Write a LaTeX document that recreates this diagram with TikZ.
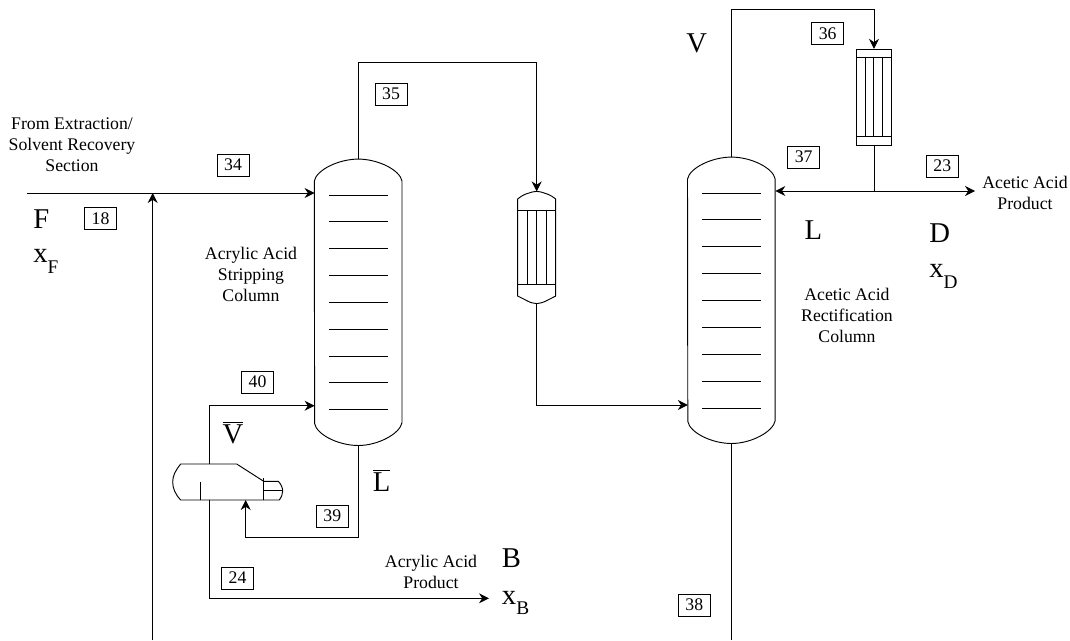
\documentclass[tikz,border=0pt]{standalone}
\usepackage{fontspec}
\setmainfont{Liberation Serif}
\usetikzlibrary{arrows.meta}
\tikzset{
  flow/.style={-{Stealth[length=7.5pt,width=7.5pt]},line width=0.7pt},
  pipe/.style={line width=0.7pt},
  numbox/.style={draw,line width=0.6pt,minimum width=24pt,minimum height=16.5pt,inner sep=0pt,font=\fontsize{13.3}{15.75}\selectfont},
  smalltext/.style={align=center,inner sep=0pt,font=\fontsize{13.3}{15.75}\selectfont},
  bigtext/.style={anchor=base west,inner sep=0pt,font=\fontsize{21.5}{24}\selectfont},
  column/.style={minimum width=65.6pt,minimum height=214.4pt,inner sep=0pt}
}
\newcommand{\lowsub}[1]{\raisebox{-0.38em}{\fontsize{14.5}{16}\selectfont #1}}
\newcommand{\columnshell}[1]{%
  \draw[pipe] (#1.north west) ++(0,22)
    .. controls +(2,-11) and +(-20,0) .. (#1.north)
    .. controls +(20,0) and +(-2,-11) .. ++(43.7,22)
    -- ++(0,241.5)
    .. controls +(-2,11) and +(20,0) .. (#1.south)
    .. controls +(-20,0) and +(2,11) .. ++(-43.7,-22) -- cycle;}

\begin{document}
\begin{tikzpicture}[x=0.75pt,y=-0.75pt]
  \useasboundingbox (0,0) rectangle (1070,641);

  \node[column] (stripcol) at (358.3,302.3) {};
  \node[column] (rectcol) at (731.5,300.3) {};
  \columnshell{stripcol}
  \columnshell{rectcol}
  \foreach \i in {0,...,8} {
    \draw[pipe] (329,{195+26.85*\i}) -- (388,{195+26.85*\i});
    \draw[pipe] (702,{193+26.9*\i}) -- (761,{193+26.9*\i});
  }

  \node[minimum width=28.5pt,minimum height=83.7pt,inner sep=0pt] (exchlow) at (536.7,247.5) {};
  \draw[pipe] (517.7,199) .. controls (521,195.5) and (530,191.7) .. (exchlow.north)
    .. controls (543,191.7) and (552,195.5) .. (555.7,199) -- (555.7,296)
    -- (546,301) .. controls (542,303) and (539,303.3) .. (exchlow.south)
    .. controls (534,303.3) and (531,303) .. (527.5,301) -- (517.7,296) -- cycle;
  \draw[pipe] (517.7,210) -- (555.7,210);
  \draw[pipe] (517.7,284.3) -- (555.7,284.3);
  \foreach \x in {527.7,536.7,546.7}
    \draw[pipe] (\x,210) -- (\x,284.3);

  \node[draw,line width=0.7pt,minimum width=26pt,minimum height=71.8pt,inner sep=0pt] (exchtop) at (874,97.2) {};
  \draw[pipe] (857,57.3) -- (891,57.3);
  \draw[pipe] (857,136) -- (891,136);
  \foreach \x in {865.3,873.7,882.7}
    \draw[pipe] (\x,57.3) -- (\x,136);

  \node[minimum width=82.5pt,minimum height=27pt,inner sep=0pt] (reboiler) at (227.7,482) {};
  \draw[pipe] (180.7,464) .. controls (175,471) and (172.7,476) .. (172.7,482)
    .. controls (172.7,488) and (175,494) .. (180.7,500) -- (279.3,500)
    .. controls (281.5,497) and (282.7,494) .. (282.7,491)
    .. controls (282.7,488) and (281,484) .. (278.3,481.3) -- (263.7,481.3)
    -- (236.7,464) -- cycle;
  \draw[pipe] (263.7,478) -- (263.7,500);
  \draw[pipe] (263.7,490.7) -- (282.7,490.7);
  \draw[pipe] (200.3,482.3) -- (200.3,500);

  \coordinate (feedstart) at (27,193);
  \coordinate (feedjoin) at (152.7,193);
  \coordinate (recyclestart) at (152.7,640);
  \coordinate (stripfeed) at (314.6,193);
  \coordinate (stripboil) at (314.6,405.7);
  \coordinate (rectfeed) at (687.8,405);
  \coordinate (rectreflux) at (775.3,191);
  \coordinate (refluxjoin) at (874,191);
  \coordinate (aceticout) at (975,191);
  \coordinate (bottomsout) at (731.5,640);
  \coordinate (acrylicout) at (489,598.3);
  \coordinate (rebtop) at (209.7,464);
  \coordinate (rebbottom) at (209.7,500);
  \coordinate (rebreturn) at (245.7,500);

  \draw[pipe] (feedstart) -- (feedjoin);
  \draw[flow] (feedjoin) -- (stripfeed);
  \draw[flow] (recyclestart) -- (feedjoin);
  \draw[flow] (stripcol.north) -- ++(0,-96.5) -| (exchlow.north);
  \draw[flow] (exchlow.south) |- (rectfeed);
  \draw[flow] (rectcol.north) -- ++(0,-147.5) -| (exchtop.north);
  \draw[pipe] (exchtop.south) -- (refluxjoin);
  \draw[flow] (refluxjoin) -- (rectreflux);
  \draw[flow] (refluxjoin) -- (aceticout);
  \draw[pipe] (rectcol.south) -- (bottomsout);
  \draw[flow] (rebtop) |- (stripboil);
  \draw[flow] (stripcol.south) -- ++(0,91.7) -| (rebreturn);
  \draw[flow] (rebbottom) |- (acrylicout);

  \node[numbox] (n34) at (233,165) {34};
  \node[numbox] (n18) at (100.5,218.7) {18};
  \node[numbox] (n35) at (391,94) {35};
  \node[numbox] (n36) at (827.7,33.7) {36};
  \node[numbox] (n37) at (803.7,157) {37};
  \node[numbox] (n23) at (942.3,166) {23};
  \node[numbox] (n40) at (257.5,382) {40};
  \node[numbox] (n39) at (332.3,516) {39};
  \node[numbox] (n24) at (237.5,578) {24};
  \node[numbox] (n38) at (694.3,605) {38};

  \node[smalltext] (sourcelabel) at (72,145) {From Extraction/\\Solvent Recovery\\Section};
  \node[smalltext] (striplabel) at (251,274) {Acrylic Acid\\Stripping\\Column};
  \node[smalltext] (rectlabel) at (847,315) {Acetic Acid\\Rectification\\Column};
  \node[smalltext] (aceticlabel) at (1025,193) {Acetic Acid\\Product};
  \node[smalltext] (acryliclabel) at (431,572) {Acrylic Acid\\Product};

  \node[bigtext] (labF) at (33,229) {F};
  \node[bigtext] (labxF) at (33,263) {x\lowsub{F}};
  \node[bigtext] (labV) at (686,53) {V};
  \node[bigtext] (labVbar) at (222.3,443) {$\overline{\mbox{V}}$};
  \node[bigtext] (labLbar) at (372.7,491) {$\overline{\mbox{L}}$};
  \node[bigtext] (labL) at (804.3,240) {L};
  \node[bigtext] (labD) at (929,243) {D};
  \node[bigtext] (labxD) at (929,277.7) {x\lowsub{D}};
  \node[bigtext] (labB) at (501.7,567.7) {B};
  \node[bigtext] (labxB) at (501.7,604) {x\lowsub{B}};
\end{tikzpicture}
\end{document}
